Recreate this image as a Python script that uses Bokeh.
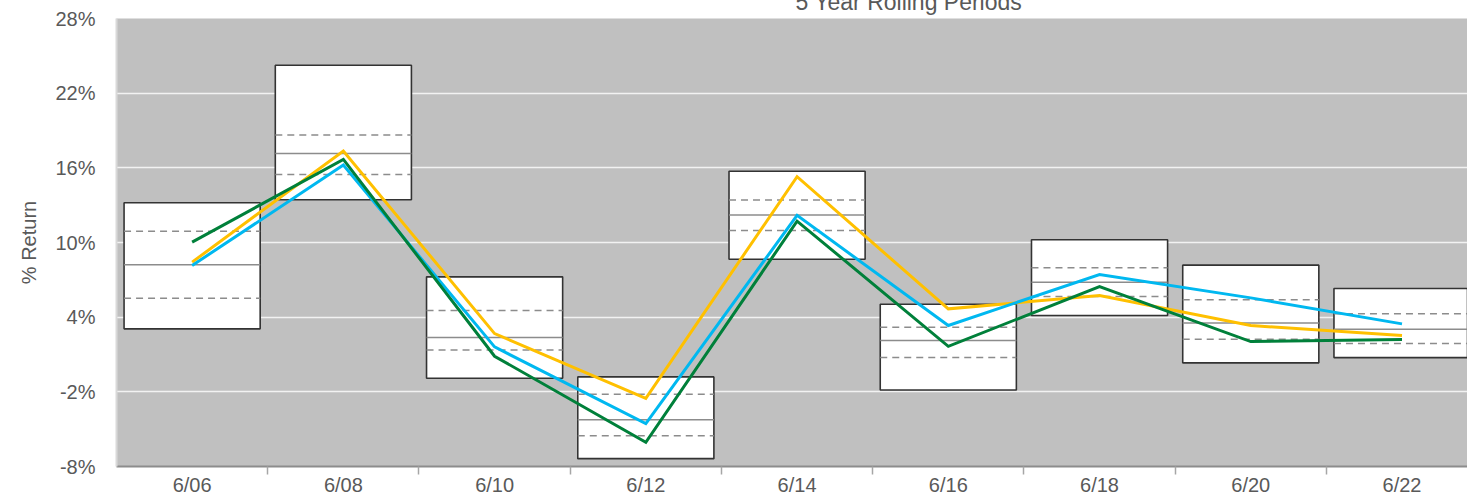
from bokeh.plotting import figure
from bokeh.models import FixedTicker, PrintfTickFormatter, Range1d, ColumnDataSource
from bokeh.embed import file_html
from bokeh.resources import INLINE

# ---- data ----
categories = ["6/06", "6/08", "6/10", "6/12", "6/14", "6/16", "6/18", "6/20", "6/22"]
pct95 = [13.20, 24.24, 7.24, -0.80, 15.72, 5.04, 10.22, 8.18, 6.30]
pct75 = [10.91, 18.64, 4.53, -2.20, 13.41, 3.19, 7.97, 5.39, 4.27]
median = [8.21, 17.16, 2.36, -4.24, 12.20, 2.12, 6.81, 3.54, 3.03]
pct25 = [5.52, 15.47, 1.37, -5.52, 10.97, 0.75, 5.66, 2.22, 1.88]
pct5 = [3.06, 13.44, -0.91, -7.37, 8.66, -1.85, 4.13, 0.33, 0.75]

series_yellow = [8.42, 17.35, 2.68, -2.52, 15.29, 4.67, 5.74, 3.33, 2.52]
series_blue = [8.15, 16.22, 1.61, -4.56, 12.18, 3.33, 7.43, 5.55, 3.46]
series_green = [10.03, 16.68, 0.86, -6.06, 11.72, 1.66, 6.46, 2.04, 2.20]

y_ticks = [-8, -2, 4, 10, 16, 22, 28]
title_text = "5 Year Rolling Periods"
y_title = "% Return"

TEXT = "#595959"
FONT = "Liberation Sans"

xs = list(range(len(categories)))
half = 0.45

p = figure(frame_width=1351, frame_height=448, output_backend="svg", toolbar_location=None,
           x_range=Range1d(-0.5, 8.433), y_range=Range1d(-8, 28),
           min_border_left=116, min_border_right=0, min_border_top=36, min_border_bottom=0,
           title=title_text)
p.styles = {"margin-top": "-18px", "margin-bottom": "-26px"}
p.background_fill_color = "#c0c0c0"
p.border_fill_color = "white"
p.outline_line_color = None

# title (its top lies above the visible window, as in the reference)
p.title.align = "left"
p.title.offset = 679
p.title.standoff = 8
p.title.vertical_align = "bottom"
p.title.text_font = FONT
p.title.text_font_size = "23px"
p.title.text_font_style = "normal"
p.title.text_color = TEXT

# grid
p.xgrid.grid_line_color = None
p.ygrid.ticker = FixedTicker(ticks=y_ticks)
p.ygrid.grid_line_color = "#f2f2f2"
p.ygrid.grid_line_width = 1.5

# y axis
p.yaxis.ticker = FixedTicker(ticks=y_ticks)
p.yaxis.formatter = PrintfTickFormatter(format="%d%%")
p.yaxis.major_tick_line_color = None
p.yaxis.major_tick_out = 0
p.yaxis.major_tick_in = 0
p.yaxis.minor_tick_line_color = None
p.yaxis.minor_tick_out = 0
p.yaxis.minor_tick_in = 0
p.yaxis.axis_line_color = "#d9d9d9"
p.yaxis.axis_line_width = 2
p.yaxis.major_label_standoff = 21
p.yaxis.major_label_text_font = FONT
p.yaxis.major_label_text_font_size = "20px"
p.yaxis.major_label_text_color = TEXT
p.yaxis.axis_label = y_title
p.yaxis.axis_label_text_font = FONT
p.yaxis.axis_label_text_font_size = "20px"
p.yaxis.axis_label_text_font_style = "normal"
p.yaxis.axis_label_text_color = TEXT
p.yaxis.axis_label_standoff = 12

# x axis
p.xaxis.ticker = FixedTicker(ticks=xs, minor_ticks=[i + 0.5 for i in xs])
p.xaxis.major_label_overrides = {i: c for i, c in enumerate(categories)}
p.xaxis.major_tick_line_color = None
p.xaxis.major_tick_out = 0
p.xaxis.major_tick_in = 0
p.xaxis.minor_tick_in = 0
p.xaxis.minor_tick_out = 8
p.xaxis.minor_tick_line_color = "#a6a6a6"
p.xaxis.minor_tick_line_width = 1.5
p.xaxis.axis_line_color = "#8c8c8c"
p.xaxis.axis_line_width = 2
p.xaxis.major_label_standoff = -1
p.xaxis.major_label_text_font = FONT
p.xaxis.major_label_text_font_size = "20px"
p.xaxis.major_label_text_color = TEXT

# boxes
src = ColumnDataSource(dict(
    x=xs, x0=[x - half for x in xs], x1=[x + half for x in xs],
    p95=pct95, p75=pct75, med=median, p25=pct25, p5=pct5,
))
p.vbar(x="x", width=2 * half, top="p95", bottom="p5", source=src,
       fill_color="white", line_color="#333333", line_width=1.6)
p.segment(x0="x0", x1="x1", y0="med", y1="med", source=src,
          line_color="#8c8c8c", line_width=1.5)
p.segment(x0="x0", x1="x1", y0="p75", y1="p75", source=src,
          line_color="#8c8c8c", line_width=1.5, line_dash="7 5")
p.segment(x0="x0", x1="x1", y0="p25", y1="p25", source=src,
          line_color="#8c8c8c", line_width=1.5, line_dash="7 5")

# series lines
p.line(xs, series_yellow, line_color="#FFC000", line_width=3, line_join="miter")
p.line(xs, series_blue, line_color="#00B8F0", line_width=3, line_join="miter")
p.line(xs, series_green, line_color="#00803A", line_width=3, line_join="miter")

open("out.html", "w").write(file_html(p, INLINE))
